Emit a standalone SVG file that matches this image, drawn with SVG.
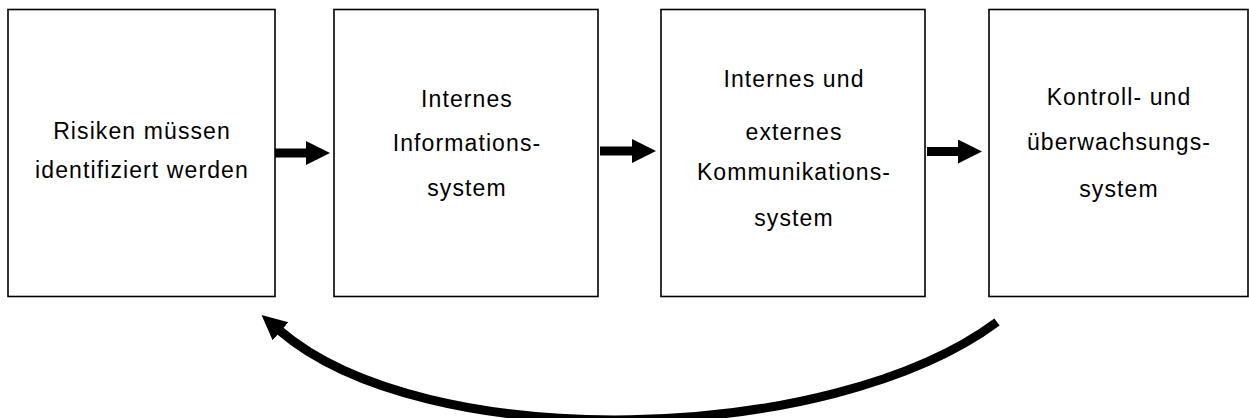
<svg xmlns="http://www.w3.org/2000/svg" width="1249" height="418" viewBox="0 0 1249 418">
<style>
.box{fill:#fff;stroke:#000;stroke-width:1.6}
.t{font-family:"Liberation Sans",Arial,sans-serif;font-size:23px;letter-spacing:1.1px;fill:#000;text-anchor:middle}
.shaft{stroke:#000;stroke-width:9;fill:none}
</style>
<defs>
<marker id="head" markerUnits="userSpaceOnUse" markerWidth="30" markerHeight="30" refX="2" refY="12" orient="auto">
<polygon points="0,0 24,12 0,24" fill="#000"/>
</marker>
<marker id="bighead" markerUnits="userSpaceOnUse" markerWidth="30" markerHeight="30" refX="2" refY="12" orient="auto">
<polygon points="0,0 25,12 0,24" fill="#000"/>
</marker>
</defs>
<g id="node1">
<rect class="box" x="8" y="9.5" width="267" height="287"/>
<text class="t" x="142" y="139">Risiken müssen</text>
<text class="t" x="142" y="178">identifiziert werden</text>
</g>
<g id="node2">
<rect class="box" x="334" y="9.5" width="264" height="287"/>
<text class="t" x="467" y="107">Internes</text>
<text class="t" x="467" y="151">Informations-</text>
<text class="t" x="467" y="196">system</text>
</g>
<g id="node3">
<rect class="box" x="661" y="9.5" width="264" height="287"/>
<text class="t" x="794" y="87">Internes und</text>
<text class="t" x="794" y="140">externes</text>
<text class="t" x="794" y="180">Kommunikations-</text>
<text class="t" x="794" y="226">system</text>
</g>
<g id="node4">
<rect class="box" x="989" y="9.5" width="259" height="287"/>
<text class="t" x="1119" y="105">Kontroll- und</text>
<text class="t" x="1119" y="150">überwachsungs-</text>
<text class="t" x="1119" y="197">system</text>
</g>
<g id="connectors">
<line class="shaft" x1="275" y1="153" x2="308" y2="153" marker-end="url(#head)"/>
<line class="shaft" x1="600" y1="151" x2="634" y2="151" marker-end="url(#head)"/>
<line class="shaft" x1="927" y1="151.5" x2="960" y2="151.5" marker-end="url(#head)"/>
<path class="shaft" d="M997,322 C830,446 425,456 279,330" marker-end="url(#bighead)"/>
</g>
</svg>
